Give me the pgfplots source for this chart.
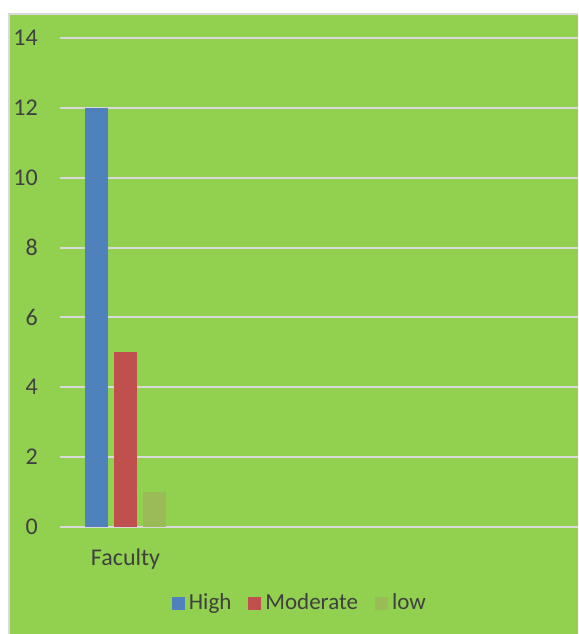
\documentclass[border=0pt]{standalone}
\usepackage{pgfplots}
\pgfplotsset{compat=1.18}
\usepackage{fontspec}
\setmainfont{Carlito}

\definecolor{bg}{HTML}{92D050}
\definecolor{gridc}{HTML}{D9D9D9}
\definecolor{txt}{HTML}{404040}
\definecolor{cHigh}{HTML}{4F81BD}
\definecolor{cMod}{HTML}{C0504D}
\definecolor{cLow}{HTML}{9BBB59}

\begin{document}
\fontsize{24}{28}\selectfont
\begin{tikzpicture}[x=1pt,y=1pt]
\useasboundingbox (0,0) rectangle (578,634);
\fill[bg] (8,0) rectangle (578,621);
\draw[gridc, line width=2pt] (9,0) -- (9,620) -- (578,620);
\begin{axis}[
  at={(60pt,107pt)}, anchor=south west,
  scale only axis, width=518pt, height=489pt,
  ybar, bar width=23pt,
  xmin=-65.5, xmax=452.5, ymin=0, ymax=14,
  axis line style={draw=none},
  ytick={0,2,...,14}, xtick={0}, xticklabels={Faculty},
  ymajorgrids, grid style={gridc, line width=2pt},
  major tick length=0pt,
  tick label style={font=\fontsize{24}{28}\selectfont, text=txt},
  /pgf/number format/assume math mode=true,
  yticklabel style={anchor=east, xshift=-14pt},
  xticklabel style={anchor=north, yshift=-14pt},
  legend style={at={(0.463,-0.157)}, anchor=center, draw=none, fill=none,
    legend columns=3, font=\fontsize{23}{27}\selectfont, text=txt,
    /tikz/every odd column/.append style={column sep=2pt},
    /tikz/every even column/.append style={column sep=15pt}},
  legend image code/.code={\fill[#1] (0pt,-6.5pt) rectangle (13pt,6.5pt);},
]
\addplot[fill=cHigh, draw=none, bar shift=-29pt] coordinates {(0,12)};
\addlegendentry{High}
\addplot[fill=cMod, draw=none, bar shift=0pt] coordinates {(0,5)};
\addlegendentry{Moderate}
\addplot[fill=cLow, draw=none, bar shift=29pt] coordinates {(0,1)};
\addlegendentry{low}
\end{axis}
\end{tikzpicture}
\end{document}
